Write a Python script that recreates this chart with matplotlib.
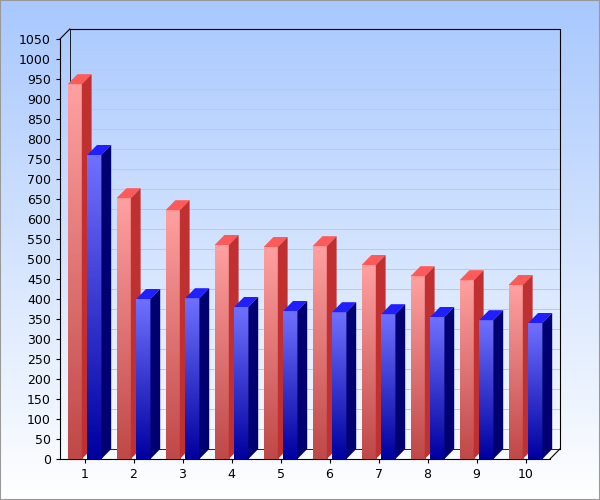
import matplotlib
matplotlib.use("Agg")
import matplotlib.pyplot as plt
import numpy as np
from matplotlib.patches import Polygon, Rectangle

categories = ["1","2","3","4","5","6","7","8","9","10"]
red_vals = [937, 652, 622, 535, 530, 532, 485, 457, 447, 435]
blue_vals = [760, 400, 402, 380, 370, 367, 362, 355, 347, 340]
yticks = list(range(0, 1051, 50))

fig = plt.figure(figsize=(6, 5), dpi=100)
bg = fig.add_axes([0, 0, 1, 1], zorder=-10)
grad = np.linspace(0, 1, 256).reshape(-1, 1)
from matplotlib.colors import LinearSegmentedColormap
bgcm = LinearSegmentedColormap.from_list("bg", ["#a8c8fe", "#ffffff"])
bg.imshow(grad, aspect="auto", cmap=bgcm, extent=[0, 1, 0, 1])
bg.set_axis_off()
bg.add_patch(Rectangle((0, 0), 1, 1, fill=False, ec="#999999", lw=1.5, transform=bg.transAxes))

ax = fig.add_axes([60/600, 41/500, 490/600, 420/500])
ax.set_xlim(0.5, 10.5)
ax.set_ylim(0, 1050)
ax.patch.set_alpha(0)
for s in ["top", "right"]:
    ax.spines[s].set_visible(False)
dx, dy = 0.2, 25

# back wall grid
for v in yticks[1:]:
    ax.plot([0.5+dx, 10.5+dx], [v+dy, v+dy], color="#c8c8c8", lw=0.7, clip_on=False, zorder=0)
ax.plot([0.5+dx, 10.5+dx, 10.5+dx], [1050+dy, 1050+dy, dy], color="black", lw=0.8, clip_on=False)
ax.plot([0.5+dx, 0.5+dx], [dy, 1050+dy], color="black", lw=0.6, clip_on=False)
ax.plot([0.5, 0.5+dx], [1050, 1050+dy], color="black", lw=0.8, clip_on=False)
ax.plot([10.5, 10.5+dx], [0, dy], color="black", lw=0.8, clip_on=False)
ax.plot([0.5+dx, 10.5+dx], [dy, dy], color="black", lw=0.6, clip_on=False)

ax.set_yticks(yticks)
ax.set_xticks(range(1, 11))
ax.set_xticklabels(categories)
ax.tick_params(labelsize=9, length=3)

w = 0.29
def bar(xc, h, ctop, cbot, ctopface, cside):
    x0, x1 = xc - w/2, xc + w/2
    cm = LinearSegmentedColormap.from_list("b", [cbot, ctop])
    im = ax.imshow(np.linspace(0, 1, 100).reshape(-1, 1), origin="lower", aspect="auto",
                   cmap=cm, extent=[x0, x1, 0, h], zorder=3)
    r = Rectangle((x0, 0), w, h, transform=ax.transData, fill=False, lw=0)
    ax.add_patch(r)
    im.set_clip_path(r)
    ax.add_patch(Polygon([[x0, h], [x1, h], [x1+dx, h+dy], [x0+dx, h+dy]], closed=True,
                         fc=ctopface, ec="none", zorder=3, clip_on=False))
    ax.add_patch(Polygon([[x1, 0], [x1+dx, dy], [x1+dx, h+dy], [x1, h]], closed=True,
                         fc=cside, ec="none", zorder=3, clip_on=False))

for i, (rv, bv) in enumerate(zip(red_vals, blue_vals)):
    xc = i + 1
    bar(xc - 0.2, rv, "#ffa0a0", "#c04848", "#ff5a5a", "#c03030")
    bar(xc + 0.2, bv, "#7070ff", "#0000a0", "#2020ff", "#000070")

ax.set_xlim(0.5, 10.5)
ax.set_ylim(0, 1050)
fig.savefig("out.png", dpi=100)
